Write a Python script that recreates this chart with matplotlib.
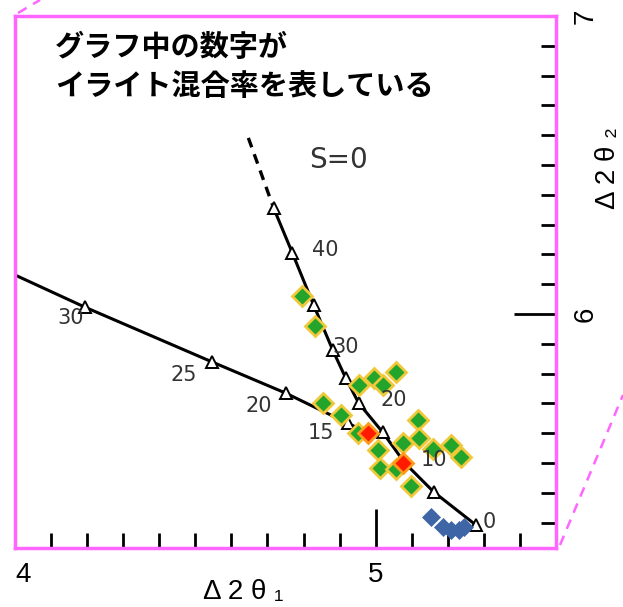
import matplotlib.pyplot as plt
from matplotlib.lines import Line2D

# S=0 curve (illite mixing %), solid part + dashed extension
s0_x = [4.717, 4.769, 4.828, 4.881, 4.917, 4.953, 5.019, 5.081, 5.161, 5.278]
s0_y = [6.356, 6.205, 6.030, 5.879, 5.785, 5.701, 5.604, 5.500, 5.403, 5.292]
s0_dash_x = [4.647, 4.717]
s0_dash_y = [6.591, 6.356]

# second curve from the left
c2_x = [4.0, 4.194, 4.547, 4.750, 4.922, 4.950]
c2_y = [6.131, 6.023, 5.839, 5.735, 5.634, 5.618]
c2_tri_x = [4.194, 4.547, 4.750, 4.922]
c2_tri_y = [6.023, 5.839, 5.735, 5.634]

green_x = [4.797, 4.833, 4.853, 4.903, 4.953, 4.994, 5.019, 5.056, 4.950, 5.006,
           5.011, 5.056, 5.075, 5.117, 5.119, 5.158, 5.208, 5.236, 5.097]
green_y = [6.060, 5.960, 5.701, 5.661, 5.762, 5.785, 5.762, 5.805, 5.601, 5.544,
           5.483, 5.480, 5.567, 5.644, 5.584, 5.547, 5.560, 5.520, 5.423]
red_x = [4.978, 5.075]
red_y = [5.601, 5.500]
blue_x = [5.153, 5.186, 5.208, 5.231, 5.244]
blue_y = [5.319, 5.285, 5.275, 5.275, 5.285]

labels = ['30', '25', '20', '15', '40', '30', '20', '10', '0', 'S=0']
label_x = [4.153, 4.467, 4.675, 4.847, 4.861, 4.917, 5.050, 5.161, 5.314, 4.897]
label_y = [5.987, 5.795, 5.691, 5.601, 6.215, 5.889, 5.711, 5.510, 5.302, 6.517]

pink = '#ff66ff'

fig = plt.figure(figsize=(6.23, 6.07), dpi=100)
ax = fig.add_axes([15 / 623, 59 / 607, 541 / 623, 532 / 607])

ax.plot(s0_dash_x, s0_dash_y, color='black', lw=2.4, ls=(0, (3, 2.2)))
ax.plot(s0_x, s0_y, color='black', lw=2.2, marker='^', ms=8,
        mfc='white', mec='black', mew=1.4)
ax.plot(c2_x, c2_y, color='black', lw=2.2)
ax.plot(c2_tri_x, c2_tri_y, ls='none', marker='^', ms=8,
        mfc='white', mec='black', mew=1.4)

ax.plot(green_x, green_y, ls='none', marker='D', ms=10, mfc='#22a52a',
        mec='#f0c83a', mew=2.0, zorder=4)
ax.plot(red_x, red_y, ls='none', marker='D', ms=10, mfc='#ff1a00',
        mec='#ff9a1a', mew=2.0, zorder=5)
ax.plot(blue_x, blue_y, ls='none', marker='D', ms=9, mfc='#3e66a6',
        mec='#3e66a6', mew=0.5, zorder=4)

for t, x, y in zip(labels, label_x, label_y):
    fs = 20 if t == 'S=0' else 15
    ax.text(x, y, t, fontsize=fs, color='#333333', ha='center', va='center',
            family='DejaVu Sans', zorder=6)

ax.set_xlim(4.0, 5.5)
ax.set_ylim(5.215, 7.0)

ax.set_xticks([4, 5])
ax.set_xticklabels(['4', '5'], fontsize=20, family=['Liberation Sans', 'DejaVu Sans'])
ax.get_xticklabels()[0].set_horizontalalignment('left')
ax.set_xticks([4 + i * 0.1 for i in range(1, 15) if i != 10], minor=True)

ax.yaxis.tick_right()
ax.set_yticks([6, 7])
ax.set_yticklabels(['6', '7'], fontsize=20, rotation=90, va='center',
                   family=['Liberation Sans', 'DejaVu Sans'])
ax.set_yticks([5.3 + i * 0.1 for i in range(17) if abs(5.3 + i * 0.1 - 6) > 0.01], minor=True)

ax.tick_params(which='major', direction='in', length=28, width=2, color='black', pad=10)
ax.tick_params(which='minor', direction='in', length=11, width=2, color='black')
ax.tick_params(axis='y', which='major', length=30, pad=12)

for sp in ax.spines.values():
    sp.set_color(pink)
    sp.set_linewidth(2.5)

ax.text(0.421, -0.083, 'Δ 2 θ ₁', transform=ax.transAxes, fontsize=20,
        ha='center', va='center', family=['Liberation Sans', 'DejaVu Sans'])
ax.text(1.096, 0.714, 'Δ 2 θ ₂', transform=ax.transAxes, fontsize=20,
        rotation=90, ha='center', va='center', family=['Liberation Sans', 'DejaVu Sans'])

fig.text(55 / 623, 1 - 47 / 607, 'グラフ中の数字が', fontsize=21, fontweight='bold',
         ha='left', va='center', family=['Noto Sans CJK JP', 'DejaVu Sans'])
fig.text(55 / 623, 1 - 86 / 607, 'イライト混合率を表している', fontsize=21, fontweight='bold',
         ha='left', va='center', family=['Noto Sans CJK JP', 'DejaVu Sans'])

# pink dashed guide lines at the corners
fig.add_artist(Line2D([18 / 623, 40 / 623], [1 - 13 / 607, 1.0], transform=fig.transFigure,
                      color=pink, lw=1.8, ls=(0, (4, 3))))
fig.add_artist(Line2D([560 / 623, 623 / 623], [1 - 545 / 607, 1 - 395 / 607],
                      transform=fig.transFigure, color=pink, lw=1.8, ls=(0, (4, 3))))

fig.savefig('out.png', dpi=100)
